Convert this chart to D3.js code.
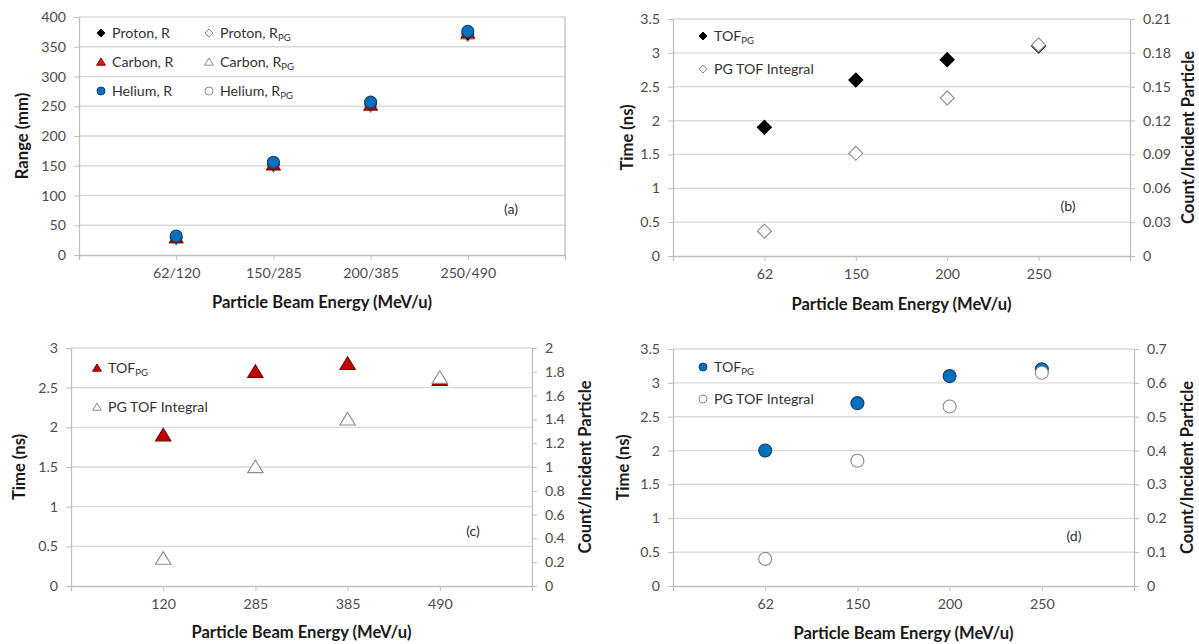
<!DOCTYPE html>
<html><head><meta charset="utf-8">
<script src="https://cdn.jsdelivr.net/npm/d3@7"></script>
<style>
body{margin:0;background:#fff}
svg{display:block}
text{font-family:Lato,"Open Sans",sans-serif}
</style>
</head><body>
<svg id="chart" width="1199" height="644"></svg>
<script>
// ---------- data ----------
const energyA = ["62/120", "150/285", "200/385", "250/490"];
const protonR = [30, 152, 254, 372];
const protonRPG = [27, 149, 250, 369];
const carbonR = [29, 152, 252, 373];
const carbonRPG = [28, 150, 251, 371];
const heliumR = [32, 156, 257, 376];
const heliumRPG = [30, 154, 255, 374];
const rangeTicks = [0, 50, 100, 150, 200, 250, 300, 350, 400];

const energyProton = ["62", "150", "200", "250"];
const protonTOF = [1.9, 2.6, 2.9, 3.1];
const protonIntegral = [0.022, 0.091, 0.14, 0.187];
const timeTicksB = [0, 0.5, 1, 1.5, 2, 2.5, 3, 3.5];
const countTicksB = [0, 0.03, 0.06, 0.09, 0.12, 0.15, 0.18, 0.21];

const energyCarbon = ["120", "285", "385", "490"];
const carbonTOF = [1.9, 2.7, 2.8, 2.6];
const carbonIntegral = [0.23, 1.0, 1.4, 1.75];
const timeTicksC = [0, 0.5, 1, 1.5, 2, 2.5, 3];
const countTicksC = [0, 0.2, 0.4, 0.6, 0.8, 1, 1.2, 1.4, 1.6, 1.8, 2];

const energyHelium = ["62", "150", "200", "250"];
const heliumTOF = [2.0, 2.7, 3.1, 3.2];
const heliumIntegral = [0.08, 0.37, 0.53, 0.63];
const timeTicksD = [0, 0.5, 1, 1.5, 2, 2.5, 3, 3.5];
const countTicksD = [0, 0.1, 0.2, 0.3, 0.4, 0.5, 0.6, 0.7];

// ---------- helpers ----------
const svg = d3.select("#chart");
const GRID = "#d9d9d9", AXIS = "#bfbfbf", TICKTXT = "#4d4d4d", TITLE = "#1a1a1a";
const FS = 14.2, TFS = 16.6;

function markerPath(shape, r) {
  if (shape === "diamond") return `M0,${-r}L${r},0L0,${r}L${-r},0Z`;
  if (shape === "triangle") return `M0,${-r}L${r * 1.1},${r * 0.8}L${-r * 1.1},${r * 0.8}Z`;
  return `M${r},0A${r},${r} 0 1,1 ${-r},0A${r},${r} 0 1,1 ${r},0Z`;
}
const STY = {
  blackDiamond: {shape: "diamond", fill: "#000", stroke: "#000"},
  openDiamond: {shape: "diamond", fill: "#fff", stroke: "#8c8c8c"},
  redTriangle: {shape: "triangle", fill: "#c00000", stroke: "#7f0000"},
  redTriangleA: {shape: "triangle", fill: "#e31a1c", stroke: "#7f0000"},
  openTriangle: {shape: "triangle", fill: "#fff", stroke: "#8c8c8c"},
  blueCircle: {shape: "circle", fill: "#0070c0", stroke: "#1f3f66"},
  openCircle: {shape: "circle", fill: "#fff", stroke: "#8c8c8c"}
};

function labelWithSub(g, x, y, main, sub) {
  const t = g.append("text").attr("x", x).attr("y", y).attr("dy", "0.35em")
    .attr("font-size", FS).attr("fill", "#333");
  t.append("tspan").text(main);
  if (sub) t.append("tspan").attr("font-size", 9.5).attr("dy", 3).text(sub);
  return t;
}

function styleAxis(a) {
  a.select(".domain").attr("stroke", AXIS).attr("stroke-width", 1.3);
  a.selectAll(".tick line").attr("stroke", AXIS);
  a.selectAll("text").attr("font-size", FS).attr("fill", TICKTXT).attr("font-family", "Lato");
}

function panel(cfg) {
  const g = svg.append("g");
  const x = d3.scalePoint().domain(cfg.cats).range([cfg.left, cfg.right]).padding(1);
  const yL = d3.scaleLinear().domain([0, cfg.leftMax]).range([cfg.bottom, cfg.top]);
  const yR = cfg.rightMax ? d3.scaleLinear().domain([0, cfg.rightMax]).range([cfg.bottom, cfg.top]) : null;

  g.append("g").selectAll("line").data(cfg.leftTicks.slice(1)).join("line")
    .attr("x1", cfg.left).attr("x2", cfg.right)
    .attr("y1", d => yL(d)).attr("y2", d => yL(d))
    .attr("stroke", GRID).attr("stroke-width", 1.3);

  styleAxis(g.append("g").attr("transform", `translate(${cfg.left},0)`)
    .call(d3.axisLeft(yL).tickValues(cfg.leftTicks).tickSize(5).tickSizeOuter(0).tickPadding(8)
      .tickFormat(d3.format("~g"))));

  if (yR) {
    styleAxis(g.append("g").attr("transform", `translate(${cfg.right},0)`)
      .call(d3.axisRight(yR).tickValues(cfg.rightTicks).tickSize(5).tickSizeOuter(0).tickPadding(8)
        .tickFormat(d3.format("~g"))));
  } else {
    g.append("line").attr("x1", cfg.right).attr("x2", cfg.right)
      .attr("y1", cfg.top).attr("y2", cfg.bottom).attr("stroke", AXIS).attr("stroke-width", 1.3);
  }

  styleAxis(g.append("g").attr("transform", `translate(0,${cfg.bottom})`)
    .call(d3.axisBottom(x).tickSize(5).tickSizeOuter(5).tickPadding(8)));

  g.append("text").attr("x", (cfg.left + cfg.right) / 2).attr("y", cfg.xTitleY)
    .attr("text-anchor", "middle").attr("dy", "0.35em").attr("font-size", TFS)
    .attr("font-weight", "bold").attr("fill", TITLE).text("Particle Beam Energy (MeV/u)");
  g.append("text").attr("transform", `translate(${cfg.yTitleX},${(cfg.top + cfg.bottom) / 2}) rotate(-90)`)
    .attr("text-anchor", "middle").attr("dy", "0.35em").attr("font-size", TFS)
    .attr("font-weight", "bold").attr("fill", TITLE).text(cfg.yTitle);
  if (cfg.rTitle) {
    g.append("text").attr("transform", `translate(${cfg.rTitleX},${(cfg.top + cfg.bottom) / 2}) rotate(-90)`)
      .attr("text-anchor", "middle").attr("dy", "0.35em").attr("font-size", TFS)
      .attr("font-weight", "bold").attr("fill", TITLE).text(cfg.rTitle);
  }
  g.append("text").attr("x", cfg.tag[1]).attr("y", cfg.tag[2]).attr("dy", "0.35em")
    .attr("text-anchor", "middle").attr("font-size", FS).attr("fill", "#333").text(cfg.tag[0]);

  cfg.series.forEach(s => {
    const st = STY[s.style];
    const sc = s.axis === "right" ? yR : yL;
    g.append("g").selectAll("path").data(s.values).join("path")
      .attr("transform", (d, i) => `translate(${x(cfg.cats[i])},${sc(d)})`)
      .attr("d", markerPath(st.shape, s.r))
      .attr("fill", st.fill).attr("stroke", st.stroke).attr("stroke-width", 1.1);
  });

  cfg.legend.forEach(l => {
    const st = STY[l.style];
    g.append("path").attr("transform", `translate(${l.x},${l.y})`)
      .attr("d", markerPath(st.shape, 4))
      .attr("fill", st.fill).attr("stroke", st.stroke).attr("stroke-width", 1);
    labelWithSub(g, l.x + 11, l.y, l.main, l.sub);
  });
}

panel({
  cats: energyA, left: 79, right: 565, top: 17, bottom: 255,
  leftMax: 400, leftTicks: rangeTicks,
  yTitle: "Range (mm)", yTitleX: 22, xTitleY: 302,
  tag: ["(a)", 511, 209],
  series: [
    {values: protonRPG, style: "openDiamond", r: 6},
    {values: carbonRPG, style: "openTriangle", r: 6},
    {values: heliumRPG, style: "openCircle", r: 5.5},
    {values: protonR, style: "blackDiamond", r: 6},
    {values: carbonR, style: "redTriangle", r: 6},
    {values: heliumR, style: "blueCircle", r: 6}
  ],
  legend: [
    {x: 101, y: 33, style: "blackDiamond", main: "Proton, R"},
    {x: 209, y: 33, style: "openDiamond", main: "Proton, R", sub: "PG"},
    {x: 101, y: 62, style: "redTriangleA", main: "Carbon, R"},
    {x: 209, y: 62, style: "openTriangle", main: "Carbon, R", sub: "PG"},
    {x: 101, y: 91, style: "blueCircle", main: "Helium, R"},
    {x: 209, y: 91, style: "openCircle", main: "Helium, R", sub: "PG"}
  ]
});

panel({
  cats: energyProton, left: 673, right: 1130, top: 19, bottom: 256,
  leftMax: 3.5, leftTicks: timeTicksB, rightMax: 0.21, rightTicks: countTicksB,
  yTitle: "Time (ns)", yTitleX: 627, rTitle: "Count/Incident Particle", rTitleX: 1188, xTitleY: 304,
  tag: ["(b)", 1068, 206],
  series: [
    {values: protonTOF, style: "blackDiamond", r: 7},
    {values: protonIntegral, style: "openDiamond", r: 7, axis: "right"}
  ],
  legend: [
    {x: 703, y: 36, style: "blackDiamond", main: "TOF", sub: "PG"},
    {x: 703, y: 69, style: "openDiamond", main: "PG TOF Integral"}
  ]
});

panel({
  cats: energyCarbon, left: 71, right: 532, top: 348, bottom: 586,
  leftMax: 3, leftTicks: timeTicksC, rightMax: 2, rightTicks: countTicksC,
  yTitle: "Time (ns)", yTitleX: 19, rTitle: "Count/Incident Particle", rTitleX: 585, xTitleY: 632,
  tag: ["(c)", 473, 531],
  series: [
    {values: carbonTOF, style: "redTriangle", r: 7},
    {values: carbonIntegral, style: "openTriangle", r: 7, axis: "right"}
  ],
  legend: [
    {x: 97, y: 368, style: "redTriangle", main: "TOF", sub: "PG"},
    {x: 97, y: 407, style: "openTriangle", main: "PG TOF Integral"}
  ]
});

panel({
  cats: energyHelium, left: 673, right: 1134, top: 349, bottom: 586,
  leftMax: 3.5, leftTicks: timeTicksD, rightMax: 0.7, rightTicks: countTicksD,
  yTitle: "Time (ns)", yTitleX: 623, rTitle: "Count/Incident Particle", rTitleX: 1187, xTitleY: 633,
  tag: ["(d)", 1074, 536],
  series: [
    {values: heliumTOF, style: "blueCircle", r: 6.5},
    {values: heliumIntegral, style: "openCircle", r: 6.5, axis: "right"}
  ],
  legend: [
    {x: 703, y: 367, style: "blueCircle", main: "TOF", sub: "PG"},
    {x: 703, y: 399, style: "openCircle", main: "PG TOF Integral"}
  ]
});
</script>
</body></html>
